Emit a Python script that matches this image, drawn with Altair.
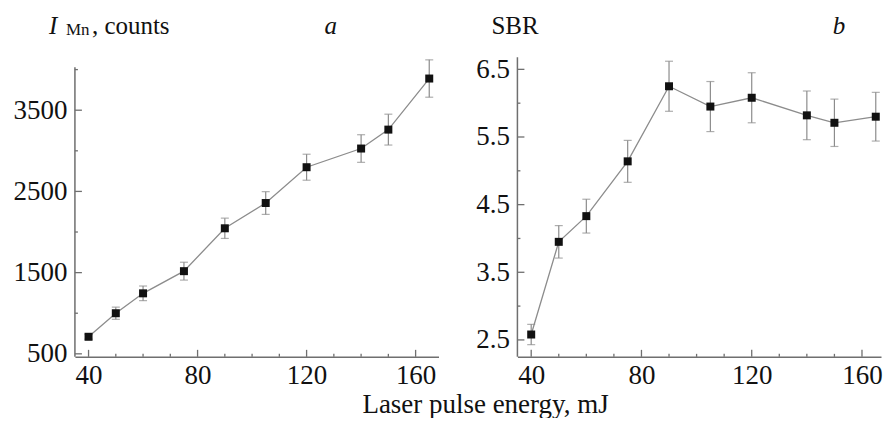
import altair as alt
import pandas as pd

# ---- data ----
energy = [40, 50, 60, 75, 90, 105, 120, 140, 150, 165]
i_mn = [710, 1000, 1245, 1518, 2046, 2357, 2798, 3028, 3261, 3890]
i_mn_err = [30, 75, 90, 110, 125, 140, 160, 170, 190, 230]
sbr = [2.58, 3.95, 4.33, 5.14, 6.25, 5.95, 6.08, 5.82, 5.71, 5.80]
sbr_err = [0.15, 0.24, 0.25, 0.31, 0.37, 0.37, 0.37, 0.36, 0.35, 0.36]

x_major = [40, 80, 120, 160]
x_minor = [50, 60, 70, 90, 100, 110, 130, 140, 150]
left_y_major = [500, 1500, 2500, 3500]
left_y_minor = [1000, 2000, 3000, 4000]
right_y_major = [2.5, 3.5, 4.5, 5.5, 6.5]
right_y_minor = [3.0, 4.0, 5.0, 6.0]

x_title = "Laser pulse energy, mJ"
left_label_main = "I"
left_label_sub = "Mn"
left_label_rest = ", counts"
left_panel_tag = "a"
right_label = "SBR"
right_panel_tag = "b"

FONT = "Liberation Serif, Times New Roman, serif"
AXIS_COLOR = "#6f6f6f"
LINE_COLOR = "#8c8c8c"
TXT = "#111111"
W, H = 364, 300


def panel(values, errs, xdom, ydom, ymaj, ymin, yfmt, ytop, texts):
    df = pd.DataFrame({"E": energy, "V": values,
                       "lo": [v - e for v, e in zip(values, errs)],
                       "hi": [v + e for v, e in zip(values, errs)]})
    xs = alt.Scale(domain=xdom, nice=False, zero=False)
    ys = alt.Scale(domain=ydom, nice=False, zero=False)
    xaxis = alt.Axis(values=x_major, ticks=False, grid=False, title=None,
                     labelPadding=6, domainColor=AXIS_COLOR, domainWidth=1.5,
                     labelFont=FONT, labelFontSize=27, labelColor=TXT)
    yaxis = alt.Axis(values=ymaj, ticks=False, grid=False, title=None, format=yfmt,
                     labelPadding=8, domain=False,
                     labelFont=FONT, labelFontSize=27, labelColor=TXT)

    base = alt.Chart(df)
    line = base.mark_line(color=LINE_COLOR, strokeWidth=1.3).encode(
        x=alt.X("E:Q", scale=xs, axis=xaxis),
        y=alt.Y("V:Q", scale=ys, axis=yaxis))
    err = base.mark_errorbar(ticks=True, size=8, thickness=1.2, color=LINE_COLOR).encode(
        x=alt.X("E:Q", scale=xs, axis=xaxis),
        y=alt.Y("lo:Q", scale=ys, axis=yaxis),
        y2="hi:Q")
    pts = base.mark_square(size=64, color=TXT, opacity=1).encode(
        x=alt.X("E:Q", scale=xs, axis=xaxis),
        y=alt.Y("V:Q", scale=ys, axis=yaxis))

    # vertical axis line (starts a little below the panel top in panel a)
    yline = alt.Chart(pd.DataFrame({"k": [0]})).mark_rule(
        color=AXIS_COLOR, strokeWidth=1.5).encode(
        x=alt.value(0), y=alt.value(ytop), y2=alt.value(H))

    def xt(vals, ln):
        return alt.Chart(pd.DataFrame({"E": vals})).mark_rule(
            color=AXIS_COLOR, strokeWidth=1.3).encode(
            x=alt.X("E:Q", scale=xs, axis=xaxis),
            y=alt.value(H), y2=alt.value(H - ln))

    def yt(vals, ln):
        return alt.Chart(pd.DataFrame({"V": vals})).mark_rule(
            color=AXIS_COLOR, strokeWidth=1.3).encode(
            y=alt.Y("V:Q", scale=ys, axis=yaxis),
            x=alt.value(0), x2=alt.value(ln))

    layers = [line, err, pts, yline, xt(x_major, 7), xt(x_minor, 3),
              yt(ymaj, 7), yt(ymin, 3)]
    for (txt, xpos, ypos, size, style, align) in texts:
        layers.append(
            alt.Chart(pd.DataFrame({"s": [txt]})).mark_text(
                font=FONT, fontSize=size, fontStyle=style, align=align,
                baseline="alphabetic", color=TXT).encode(
                text="s:N", x=alt.value(xpos), y=alt.value(ypos)))
    return alt.layer(*layers).properties(width=W, height=H)


left = panel(i_mn, i_mn_err, [35, 168.4], [463, 4153], left_y_major, left_y_minor,
             "d", 10,
             [(left_label_main, -26, -23, 25, "italic", "left"),
              (left_label_sub, -9, -22, 17, "normal", "left"),
              (left_label_rest, 17, -23, 25, "normal", "left"),
              (left_panel_tag, 256, -23, 25, "italic", "center")])
right = panel(sbr, sbr_err, [35, 166.9], [2.25, 6.68], right_y_major, right_y_minor,
              ".1f", 0,
              [(right_label, -26, -23, 25, "normal", "left"),
               (right_panel_tag, 322, -23, 25, "italic", "center")])

chart = alt.hconcat(left, right, spacing=37).properties(
    title=alt.TitleParams(x_title, orient="bottom", anchor="middle", font=FONT,
                          fontSize=27, fontWeight="normal", color=TXT,
                          offset=3, dx=38),
    padding={"left": 5, "top": 6, "right": 0, "bottom": 0},
).configure_view(stroke=None)

chart.save("out.html", embed_options={"renderer": "svg", "actions": False})
